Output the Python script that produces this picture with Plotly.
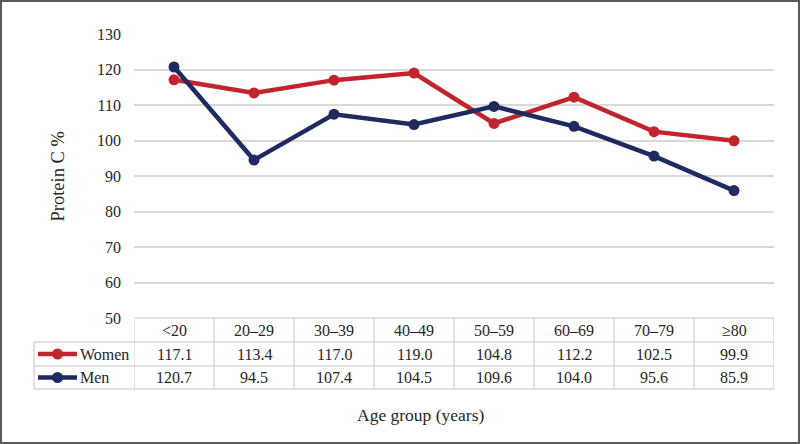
import plotly.graph_objects as go

# ---- data ----
age_groups = ["<20", "20–29", "30–39", "40–49", "50–59", "60–69", "70–79", "≥80"]
women = [117.1, 113.4, 117.0, 119.0, 104.8, 112.2, 102.5, 99.9]
men = [120.7, 94.5, 107.4, 104.5, 109.6, 104.0, 95.6, 85.9]
series_names = ["Women", "Men"]
y_ticks = [50, 60, 70, 80, 90, 100, 110, 120, 130]

RED = "#c2242d"
NAVY = "#1f2a5f"
GRID = "#d9d9d9"
FONT = "Liberation Serif"
TXT = "#262626"

W, H = 800, 444
ML, MR, MT, MB = 134, 26, 34, 126
PW = W - ML - MR
PH = H - MT - MB


def xp(px):
    return (px - ML) / PW


def yp(py):
    return (H - MB - py) / PH


fig = go.Figure()
fig.add_trace(go.Scatter(x=age_groups, y=women, mode="lines+markers", name=series_names[0],
                         line=dict(color=RED, width=4.5), marker=dict(color=RED, size=11)))
fig.add_trace(go.Scatter(x=age_groups, y=men, mode="lines+markers", name=series_names[1],
                         line=dict(color=NAVY, width=4.5), marker=dict(color=NAVY, size=11)))

shapes = []
annotations = []
line_style = dict(color=GRID, width=1.5)

n = len(age_groups)
for i in range(n + 1):
    shapes.append(dict(type="line", xref="x", yref="paper", x0=i - 0.5, x1=i - 0.5,
                       y0=yp(318), y1=yp(389), line=line_style, layer="below"))
shapes.append(dict(type="line", xref="paper", yref="paper", x0=xp(34), x1=xp(34),
                   y0=yp(342), y1=yp(389), line=line_style))
shapes.append(dict(type="line", xref="paper", yref="paper", x0=0, x1=1,
                   y0=yp(318), y1=yp(318), line=line_style, layer="below"))
for py in (342, 366, 389):
    shapes.append(dict(type="line", xref="paper", yref="paper", x0=xp(34), x1=1,
                       y0=yp(py), y1=yp(py), line=line_style))

FS = 16
for cat in age_groups:
    annotations.append(dict(x=cat, y=yp(330), xref="x", yref="paper", text=cat,
                            showarrow=False, font=dict(family=FONT, size=FS, color=TXT),
                            xanchor="center", yanchor="middle"))

rows = [(series_names[0], women, RED, 354), (series_names[1], men, NAVY, 377.5)]
for name, vals, col, cy in rows:
    for cat, v in zip(age_groups, vals):
        annotations.append(dict(x=cat, y=yp(cy), xref="x", yref="paper", text=f"{v:.1f}",
                                showarrow=False, font=dict(family=FONT, size=FS, color=TXT),
                                xanchor="center", yanchor="middle"))
    shapes.append(dict(type="line", xref="paper", yref="paper", x0=xp(38), x1=xp(77),
                       y0=yp(cy), y1=yp(cy), line=dict(color=col, width=4.5)))
    r = 5.5
    shapes.append(dict(type="circle", xref="paper", yref="paper", x0=xp(57.5 - r), x1=xp(57.5 + r),
                       y0=yp(cy + r), y1=yp(cy - r), fillcolor=col, line=dict(color=col, width=0)))
    annotations.append(dict(x=xp(78), y=yp(cy), xref="paper", yref="paper", text=name,
                            showarrow=False, font=dict(family=FONT, size=FS, color=TXT),
                            xanchor="left", yanchor="middle"))

annotations.append(dict(x=xp(420), y=yp(415), xref="paper", yref="paper", text="Age group (years)",
                        showarrow=False, font=dict(family=FONT, size=17.5, color=TXT),
                        xanchor="center", yanchor="middle"))
annotations.append(dict(x=xp(57), y=yp(176.5), xref="paper", yref="paper", text="Protein C %",
                        showarrow=False, textangle=-90, font=dict(family=FONT, size=18.5, color=TXT),
                        xanchor="center", yanchor="middle"))

shapes.append(dict(type="rect", xref="paper", yref="paper", x0=xp(1), x1=xp(799),
                   y0=yp(443), y1=yp(1), line=dict(color="#595959", width=2)))

fig.update_layout(
    width=W, height=H,
    margin=dict(l=ML, r=MR, t=MT, b=MB, pad=0),
    paper_bgcolor="white", plot_bgcolor="white",
    showlegend=False,
    shapes=shapes, annotations=annotations,
    font=dict(family=FONT, size=FS, color=TXT),
)
fig.update_xaxes(type="category", range=[-0.5, n - 0.5], showticklabels=False,
                 showgrid=False, zeroline=False, showline=False, ticks="")
fig.update_yaxes(range=[50, 130], tickvals=y_ticks, showgrid=True, gridcolor=GRID, gridwidth=1.5,
                 zeroline=False, showline=False, ticks="", ticklabelstandoff=12,
                 tickfont=dict(family=FONT, size=FS, color=TXT))

fig.write_html("out.html", config={"displayModeBar": False},
               post_script="document.body.style.margin='0';document.body.style.padding='0';")
